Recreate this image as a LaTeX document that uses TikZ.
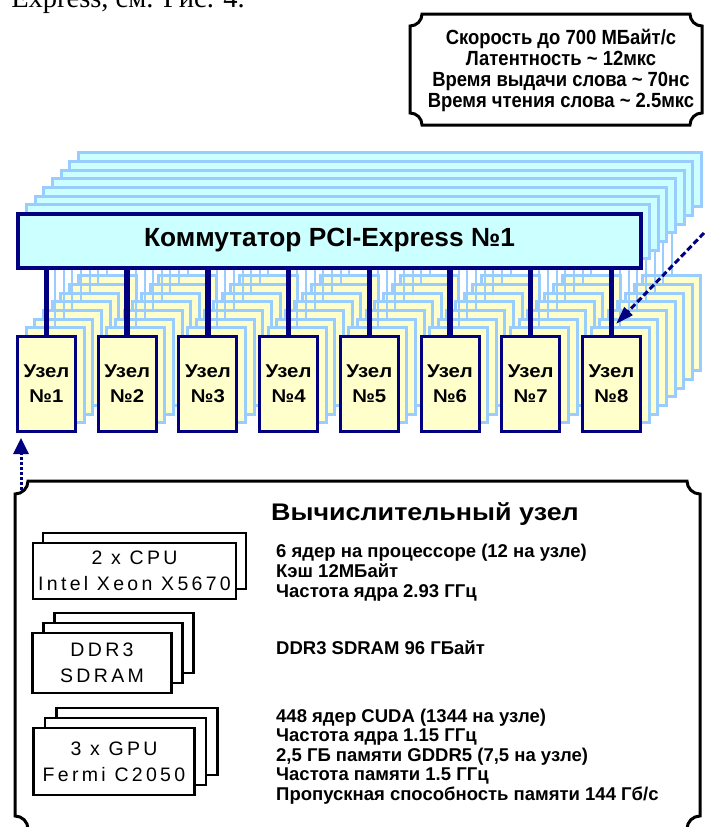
\documentclass[tikz,border=0pt]{standalone}
\usepackage{fontspec}
\setmainfont{Liberation Sans}
\newfontfamily\serifx{Liberation Serif}
\newfontfamily\condx[FakeStretch=0.9]{Liberation Sans}
\newfontfamily\widex[FakeStretch=1.12]{Liberation Sans}
\newfontfamily\nodex[FakeStretch=1.1]{Liberation Sans}
\newfontfamily\loosex[LetterSpace=17]{Liberation Sans}
\usetikzlibrary{arrows.meta}
\definecolor{navyc}{HTML}{000080}
\definecolor{lblue}{HTML}{99CCFF}
\definecolor{cyanf}{HTML}{CCFFFF}
\definecolor{yelf}{HTML}{FFFFCC}
\tikzset{
  swback/.style={draw=lblue, fill=cyanf, line width=3pt, minimum width=623pt, minimum height=54pt, inner sep=0pt, outer sep=0pt},
  swfront/.style={swback, draw=navyc, line width=4pt, font=\bfseries\fontsize{26.3}{26}\selectfont},
  ndback/.style={draw=lblue, fill=yelf, line width=3pt, minimum width=58pt, minimum height=95pt, inner sep=0pt, outer sep=0pt},
  ndfront/.style={ndback, draw=navyc, align=center, font=\nodex\bfseries\fontsize{18.5}{25}\selectfont},
  cback/.style={draw=lblue, line width=2pt},
  cfront/.style={draw=navyc, line width=5.5pt},
  plaque/.style={draw=black, line width=3pt, fill=white},
  comp/.style={draw=black, fill=white, line width=2.5pt, inner sep=0pt, outer sep=0pt, align=center, font=\loosex\fontsize{19.5}{26}\selectfont},
  spec/.style={anchor=base west, inner sep=0pt, font=\bfseries\fontsize{18.5}{18.5}\selectfont},
  darrow/.style={draw=navyc, line width=3pt}
}
\begin{document}
\begin{tikzpicture}[x=1pt,y=-1pt]
\useasboundingbox (0,0) rectangle (706,827);
% partial text line at top (cut by the page edge, as in the reference)
\node[font=\serifx\fontsize{28.5}{28.5}\selectfont, anchor=base east, inner sep=0pt] (toptext) at (245,7) {Express, см. Рис. 4.};
% info plaque
\draw[plaque] (410,26) arc[start angle=270,end angle=360,radius=12pt] -- (690,14)
  arc[start angle=180,end angle=270,radius=12pt] -- (702,113)
  arc[start angle=90,end angle=180,radius=12pt] -- (422,125)
  arc[start angle=0,end angle=90,radius=12pt] -- cycle;
\node[align=center, inner sep=0pt, font=\condx\bfseries\fontsize{20.5}{21}\selectfont] (info) at (561,70)
  {Скорость до 700 МБайт/с\\Латентность \textasciitilde\ 12мкс\\Время выдачи слова \textasciitilde\ 70нс\\Время чтения слова \textasciitilde\ 2.5мкс};
% back layers
\foreach \k in {7,6,...,1} {
  \node[swback] (sw\k) at ({329.5+8.65*\k}, {240.5-8.65*\k}) {};
  \foreach \i in {1,...,8} {
    \node[ndback] (n\k-\i) at ({46.5+80.7*(\i-1)+8.65*\k}, {384-8.65*\k}) {};
    \draw[cback] (n\k-\i.north) -- (n\k-\i.north |- sw\k.south);
  }
}
% front layer
\node[swfront] (sw0) at (329.5,240.5) {Коммутатор PCI-Express №1};
\foreach \i in {1,...,8} {
  \node[ndfront] (n0-\i) at ({46.5+80.7*(\i-1)}, 384) {Узел\\№\i};
  \draw[cfront] (n0-\i.north) -- (n0-\i.north |- sw0.south);
}
% dashed arrow to node stack 8
\coordinate (a1s) at (704,233);
\coordinate (a1e) at (616,324);
\draw[darrow, dash pattern=on 6pt off 3pt, -{Triangle[length=18pt,width=11pt]}] (a1s) -- (a1e);
% bottom plaque
\draw[plaque] (15,494) arc[start angle=270,end angle=360,radius=13pt] -- (687,481)
  arc[start angle=180,end angle=270,radius=13pt] -- (700,816)
  arc[start angle=90,end angle=180,radius=13pt] -- (28,829)
  arc[start angle=0,end angle=90,radius=13pt] -- cycle;
% dotted arrow to node 1
\coordinate (a2s) at (21,490);
\coordinate (a2e) at (21,438);
\draw[darrow, dash pattern=on 3pt off 2pt, -{Triangle[length=16pt,width=15pt]}] (a2s) -- (a2e);
% component boxes
\node[comp, minimum width=203pt, minimum height=56pt] (cpub) at (144.5,561) {};
\node[comp, minimum width=203pt, minimum height=56pt] (cpu) at (134.5,571) {2 x CPU\\Intel Xeon X5670};
\node[comp, minimum width=139pt, minimum height=60pt] (ddrb) at (124,643) {};
\node[comp, minimum width=139pt, minimum height=60pt] (ddrm) at (113,653) {};
\node[comp, minimum width=139pt, minimum height=60pt] (ddr) at (102,663) {DDR3\\SDRAM};
\node[comp, minimum width=161pt, minimum height=67pt] (gpub) at (137,741.5) {};
\node[comp, minimum width=161pt, minimum height=67pt] (gpum) at (125.5,751.5) {};
\node[comp, minimum width=161pt, minimum height=67pt] (gpu) at (114,761.5) {3 x GPU\\Fermi C2050};
% texts
\node[anchor=base west, inner sep=0pt, font=\widex\bfseries\fontsize{24}{24}\selectfont] (title) at (271,520) {Вычислительный узел};
\node[spec] (s1) at (276,557) {6 ядер на процессоре (12 на узле)};
\node[spec] (s2) at (276,577) {Кэш 12МБайт};
\node[spec] (s3) at (276,597) {Частота ядра 2.93 ГГц};
\node[spec] (s4) at (276,654) {DDR3 SDRAM 96 ГБайт};
\node[spec] (s5) at (276,722) {448 ядер CUDA (1344 на узле)};
\node[spec] (s6) at (276,741.5) {Частота ядра 1.15 ГГц};
\node[spec] (s7) at (276,761) {2,5 ГБ памяти GDDR5 (7,5 на узле)};
\node[spec] (s8) at (276,780.5) {Частота памяти 1.5 ГГц};
\node[spec] (s9) at (276,800) {Пропускная способность памяти 144 Гб/с};
\end{tikzpicture}
\end{document}
